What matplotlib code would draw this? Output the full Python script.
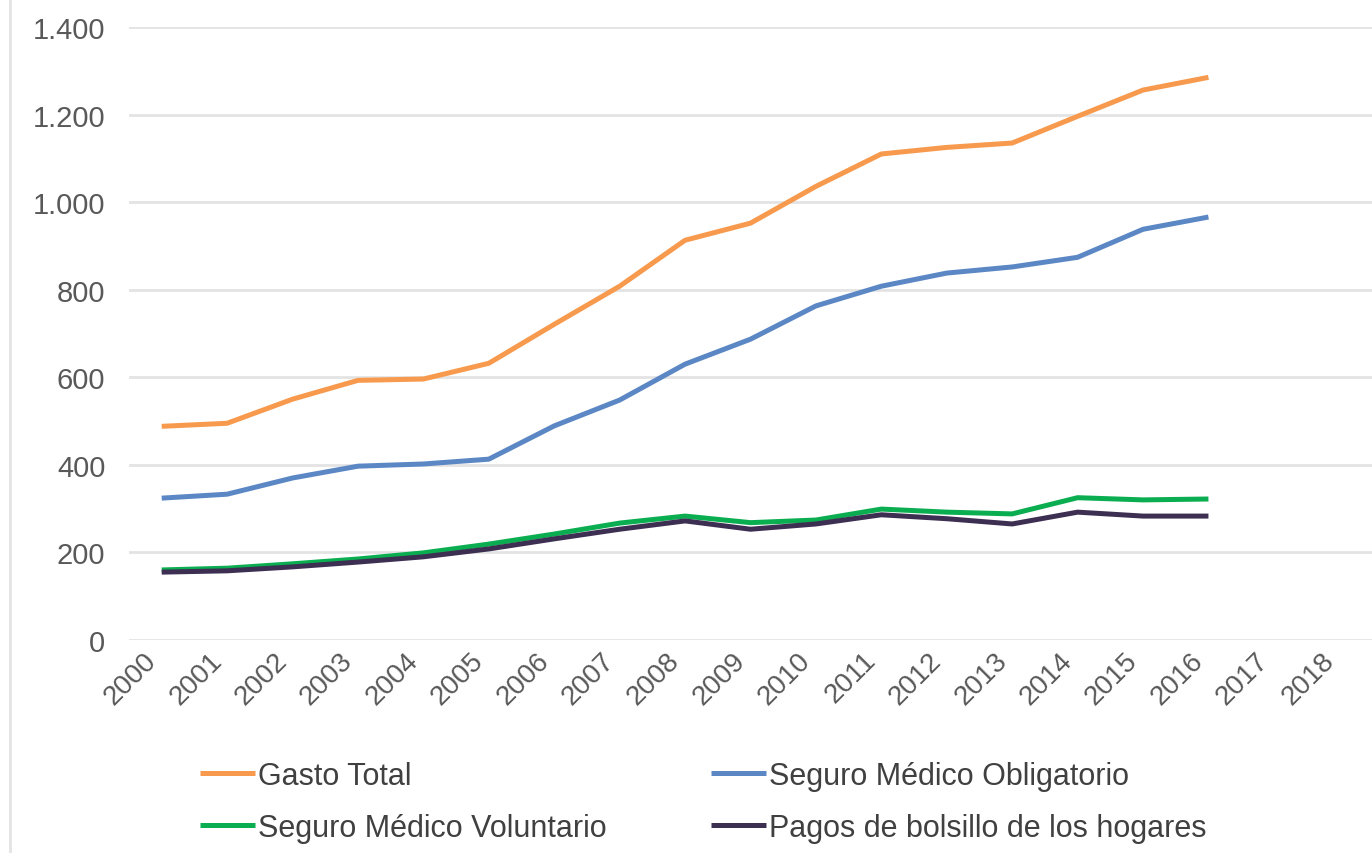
import matplotlib.pyplot as plt
import matplotlib.transforms as mtransforms
from matplotlib.lines import Line2D

plt.rcParams['font.family'] = ['Liberation Sans', 'DejaVu Sans']

# Datos
anios = [str(a) for a in range(2000, 2019)]
gasto_total = [488, 495, 550, 593, 596, 632, 721, 808, 913, 952, 1036, 1110, 1125, 1135, 1196, 1256, 1285]
seguro_obligatorio = [324, 333, 370, 397, 402, 413, 489, 548, 630, 687, 763, 808, 838, 852, 874, 938, 966]
seguro_voluntario = [160, 164, 174, 185, 199, 219, 242, 267, 283, 268, 274, 299, 292, 288, 325, 320, 322]
pagos_bolsillo = [155, 158, 167, 178, 190, 208, 231, 253, 272, 253, 265, 286, 277, 265, 292, 283, 283]

series = [
    ("Gasto Total", gasto_total, "#F79A4E"),
    ("Seguro Médico Obligatorio", seguro_obligatorio, "#5B87C5"),
    ("Seguro Médico Voluntario", seguro_voluntario, "#0AAE50"),
    ("Pagos de bolsillo de los hogares", pagos_bolsillo, "#3D2F52"),
]

fig = plt.figure(figsize=(13.72, 8.54), dpi=100)
ax = fig.add_axes([129 / 1372, 1 - 641 / 854, 1 - 129 / 1372, (641 - 28) / 854])

x = list(range(len(anios)))
lineas = []
for nombre, valores, color in series:
    l, = ax.plot(x[:len(valores)], valores, color=color, lw=3.6, label=nombre,
                 solid_joinstyle='round', solid_capstyle='butt')
    lineas.append(l)

ax.set_xlim(-0.5, len(anios) - 0.5)
ax.set_ylim(0, 1400)
ax.set_yticks(range(0, 1401, 200))
ax.set_yticklabels([f"{v:,}".replace(",", ".") for v in range(0, 1401, 200)])
ax.set_xticks(x)
ax.set_xticklabels(anios, rotation=45, ha='right')

desplaz = mtransforms.ScaledTranslation(10 / 100, 0, fig.dpi_scale_trans)
for lab in ax.get_xticklabels():
    lab.set_transform(lab.get_transform() + desplaz)

ax.grid(True, axis='y', color='#E3E3E3', lw=2)
ax.set_axisbelow(True)
for s in ax.spines.values():
    s.set_visible(False)
ax.tick_params(axis='both', length=0, labelsize=21, colors='#595959')
ax.tick_params(axis='x', labelsize=20)
ax.tick_params(axis='y', pad=17)
ax.tick_params(axis='x', pad=5)

# borde izquierdo del área del gráfico
fig.add_artist(Line2D([10 / 1372, 10 / 1372], [0, 1], color='#E3E3E3', lw=2))

# orden por filas: Gasto, Obligatorio / Voluntario, Pagos
orden = [0, 2, 1, 3]
leg = fig.legend([lineas[i] for i in orden], [series[i][0] for i in orden],
                 loc='upper left', bbox_to_anchor=(200 / 1372, 1 - 762 / 854), ncol=2,
                 frameon=False, fontsize=22, handlelength=1.8, handletextpad=0.1,
                 columnspacing=3.42, labelspacing=0.72, borderpad=0, borderaxespad=0)
for t in leg.get_texts():
    t.set_color('#404040')

fig.savefig("out.png", dpi=100)
